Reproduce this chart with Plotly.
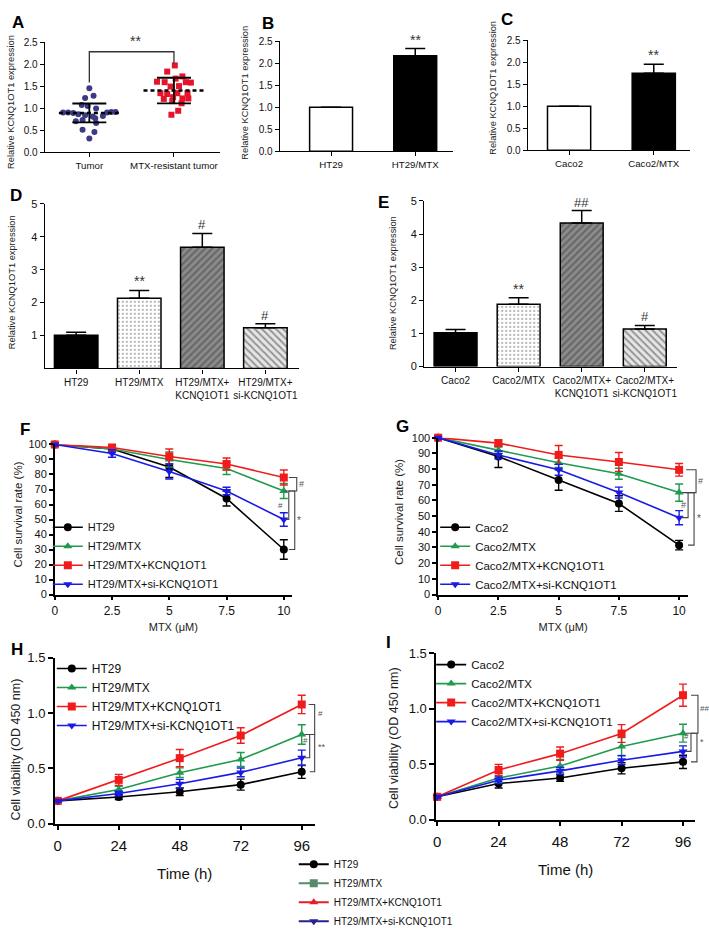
import plotly.graph_objects as go

W, H = 709, 936
FONT = "Liberation Sans, Arial, Helvetica, sans-serif"

# ------------------------------------------------------------------ data
a_categories = ["Tumor", "MTX-resistant tumor"]
tumor_vals = [1.45, 1.23, 1.28, 1.07, 1.05, 0.99, 0.90, 0.90, 0.89, 0.86, 0.84, 0.81,
              0.82, 0.90, 0.91, 0.91, 0.77, 0.70, 0.73, 0.66, 0.51, 0.46, 0.31]
tumor_jitter = [0.0, -0.05, 0.05, -0.09, -0.02, 0.08, -0.31, -0.25, -0.19, -0.13, -0.05, 0.04,
                0.16, 0.21, 0.26, 0.31, 0.07, -0.16, -0.08, 0.08, -0.08, 0.06, 0.0]
resist_vals = [1.97, 1.83, 1.72, 1.67, 1.60, 1.59, 1.59, 1.58, 1.49, 1.50, 1.34,
               1.32, 1.34, 1.34, 1.21, 1.25, 1.22, 1.22, 1.16, 1.11, 0.94, 0.85]
resist_jitter = [0.01, -0.08, 0.10, 0.02, -0.20, -0.11, 0.14, 0.20, -0.04, 0.06, -0.16,
                 -0.08, 0.04, 0.16, -0.12, -0.01, 0.10, 0.17, -0.02, 0.09, 0.05, -0.03]
a_means = [0.89, 1.40]
a_sds = [0.215, 0.29]

b_categories = ["HT29", "HT29/MTX"]
b_values = [1.0, 2.17]
b_errors = [0.0, 0.16]
b_marks = ["", "**"]

c_categories = ["Caco2", "Caco2/MTX"]
c_values = [1.0, 1.75]
c_errors = [0.0, 0.20]
c_marks = ["", "**"]

d_categories = ["HT29", "HT29/MTX", "HT29/MTX+<br>KCNQ1OT1", "HT29/MTX+<br>si-KCNQ1OT1"]
d_values = [1.01, 2.13, 3.68, 1.24]
d_errors = [0.09, 0.24, 0.42, 0.12]
d_marks = ["", "**", "#", "#"]

e_categories = ["Caco2", "Caco2/MTX", "Caco2/MTX+<br>KCNQ1OT1", "Caco2/MTX+<br>si-KCNQ1OT1"]
e_values = [1.02, 1.88, 4.33, 1.13]
e_errors = [0.10, 0.20, 0.38, 0.11]
e_marks = ["", "**", "##", "#"]

mtx_doses = [0, 2.5, 5, 7.5, 10]
dose_ticktext = ["0", "2.5", "5", "7.5", "10"]
hours = [0, 24, 48, 72, 96]

ht29_names = ["HT29", "HT29/MTX", "HT29/MTX+KCNQ1OT1", "HT29/MTX+si-KCNQ1OT1"]
caco2_names = ["Caco2", "Caco2/MTX", "Caco2/MTX+KCNQ1OT1", "Caco2/MTX+si-KCNQ1OT1"]

# F: survival HT29 lines
f_ht29 = [100, 97, 85, 64, 30]
f_ht29_err = [1, 2, 7, 5, 6.5]
f_mtx = [100, 97, 90, 84, 69]
f_mtx_err = [1, 2, 5, 4, 5]
f_kcnq = [100, 98, 92, 87, 78]
f_kcnq_err = [1, 1.5, 5, 4, 5]
f_si = [100, 94, 82, 69, 50]
f_si_err = [1, 2.5, 5, 2.5, 4.5]

# G: survival Caco2 lines
g_caco2 = [100, 88, 73, 58, 31.5]
g_caco2_err = [1, 7, 6.5, 5, 3]
g_mtx = [100, 92, 84, 77, 65]
g_mtx_err = [1, 2, 3, 3.5, 5.5]
g_kcnq = [100, 96.5, 89, 84.5, 79.5]
g_kcnq_err = [1, 2, 6, 6, 4]
g_si = [100, 89, 79.5, 65, 49]
g_si_err = [1, 2.5, 3.5, 3.5, 4.5]

# H: viability HT29
h_ht29 = [0.205, 0.24, 0.287, 0.352, 0.469]
h_ht29_err = [0.01, 0.022, 0.034, 0.05, 0.06]
h_mtx = [0.205, 0.308, 0.46, 0.58, 0.806]
h_mtx_err = [0.01, 0.03, 0.044, 0.063, 0.088]
h_kcnq = [0.205, 0.395, 0.592, 0.797, 1.078]
h_kcnq_err = [0.01, 0.05, 0.078, 0.07, 0.083]
h_si = [0.205, 0.272, 0.36, 0.463, 0.595]
h_si_err = [0.01, 0.02, 0.04, 0.04, 0.07]

# I: viability Caco2
i_caco2 = [0.205, 0.325, 0.374, 0.462, 0.52]
i_caco2_err = [0.01, 0.04, 0.03, 0.05, 0.06]
i_mtx = [0.205, 0.374, 0.482, 0.658, 0.778]
i_mtx_err = [0.01, 0.04, 0.06, 0.08, 0.08]
i_kcnq = [0.205, 0.447, 0.594, 0.775, 1.12]
i_kcnq_err = [0.01, 0.05, 0.06, 0.08, 0.10]
i_si = [0.205, 0.354, 0.439, 0.535, 0.614]
i_si_err = [0.01, 0.03, 0.03, 0.04, 0.05]

# significance brackets: (upper series, lower series, label)
f_sig = [(2, 1, "#"), (1, 3, "#"), (1, 0, "*")]
g_sig = [(2, 1, "#"), (1, 3, "#"), (1, 0, "*")]
h_sig = [(2, 1, "#"), (1, 3, "#"), (1, 0, "**")]
i_sig = [(2, 1, "##"), (1, 3, "#"), (1, 0, "*")]

# ------------------------------------------------------------------ styles
LINE_COLORS = ["#000000", "#1f9a4e", "#f01c1c", "#1a1ae6"]
SYMBOLS = ["circle", "triangle-up", "square", "triangle-down"]
BOTTOM_COLORS = ["#000000", "#5a8a6c", "#e3202a", "#24248a"]
BOTTOM_SYMBOLS = ["circle", "square", "triangle-up", "triangle-down"]

# panel boxes in pixels: left, right, top, bottom ; ranges
PANELS = {
    "A": ((42, 218, 36, 149), [-0.526, 1.545], [0, 2.5]),
    "B": ((278, 452, 35, 148), [-0.609, 1.45], [0, 2.5]),
    "C": ((527, 690, 34, 147), [-0.488, 1.429], [0, 2.5]),
    "D": ((42, 297, 202, 371), [-0.497, 3.529], [0, 5]),
    "E": ((423, 677, 199, 369), [-0.497, 3.513], [0, 5]),
    "F": ((52, 290, 449, 603), [0, 10.348], [0, 100]),
    "G": ((437, 688, 442, 603), [0, 10.372], [0, 100]),
    "H": ((52, 313, 668, 838), [-1.18, 101.1], [0, 1.5]),
    "I": ((435, 695, 663, 834), [-0.39, 100.7], [0, 1.5]),
}
ORDER = ["A", "B", "C", "D", "E", "F", "G", "H", "I"]
AX = {k: ("" if i == 0 else str(i + 1)) for i, k in enumerate(ORDER)}


def to_px(panel, xv, yv):
    (l, r, t, b), xr, yr = PANELS[panel]
    px = l + (xv - xr[0]) / (xr[1] - xr[0]) * (r - l)
    py = b - (yv - yr[0]) / (yr[1] - yr[0]) * (b - t)
    return px, py


fig = go.Figure()

# ---------------------------------------------------------------- panel A
xa, ya = "x", "y"
fig.add_trace(go.Scatter(
    x=[0 + j for j in tumor_jitter], y=tumor_vals, mode="markers",
    marker=dict(symbol="circle", size=6, color="#3c3a84"),
    xaxis=xa, yaxis=ya, showlegend=False, cliponaxis=False))
fig.add_trace(go.Scatter(
    x=[1 + j for j in resist_jitter], y=resist_vals, mode="markers",
    marker=dict(symbol="square", size=6, color="#e5132b"),
    xaxis=xa, yaxis=ya, showlegend=False, cliponaxis=False))
fig.add_trace(go.Scatter(
    x=[0, 1], y=a_means, mode="markers", marker=dict(size=1, color="rgba(0,0,0,0)"),
    error_y=dict(type="data", array=a_sds, width=17, thickness=1.8, color="black"),
    xaxis=xa, yaxis=ya, showlegend=False))
for ci, m in enumerate(a_means):
    fig.add_trace(go.Scatter(
        x=[ci - 0.36, ci + 0.36], y=[m, m], mode="lines",
        line=dict(color="black", width=2.6, dash="4px,3px"),
        xaxis=xa, yaxis=ya, showlegend=False))
top_a = max(resist_vals) + 0.31
fig.add_shape(type="path", xref="x", yref="y",
              path=f"M 0,{max(tumor_vals) + 0.13} L 0,{top_a} L 1,{top_a} L 1,{max(resist_vals) + 0.05}",
              line=dict(color="#333", width=1.3))
fig.add_annotation(x=0.55, y=top_a + 0.02, xref="x", yref="y", text="**", showarrow=False,
                   yanchor="bottom", font=dict(family=FONT, size=14, color="#333"))


# ---------------------------------------------------------------- bars
def bar_panel(panel, cats, vals, errs, marks, pattern, colors, width):
    sx = AX[panel]
    fig.add_trace(go.Bar(
        x=cats, y=vals, width=width,
        marker=dict(color=colors, line=dict(color="black", width=1.5), pattern=pattern),
        error_y=dict(type="data", symmetric=False, array=errs, arrayminus=[0] * len(errs),
                     width=10, thickness=1.5, color="black"),
        xaxis="x" + sx, yaxis="y" + sx, showlegend=False))
    for c, v, e, mk in zip(cats, vals, errs, marks):
        if mk:
            fig.add_annotation(x=c, y=v + e, xref="x" + sx, yref="y" + sx, text=mk,
                               showarrow=False, yanchor="bottom", yshift=-1,
                               font=dict(family=FONT, size=14 if "*" in mk else 13, color="#333"))


bar_panel("B", b_categories, b_values, b_errors, b_marks, None, ["white", "black"], 0.51)
bar_panel("C", c_categories, c_values, c_errors, c_marks, None, ["white", "black"], 0.51)
pat4 = dict(shape=["", ".", "/", "\\"], fgcolor="black", size=[6, 4, 5, 5],
            solidity=[0.2, 0.2, 0.45, 0.4], fillmode="overlay")
bar_fill = ["black", "white", "#8c8c8c", "#e6e6e6"]
bar_panel("D", d_categories, d_values, d_errors, d_marks, pat4, bar_fill, 0.69)
bar_panel("E", e_categories, e_values, e_errors, e_marks, pat4, bar_fill, 0.68)


# ---------------------------------------------------------------- line panels
def line_panel(panel, xs, series, errs, names, legend, msize):
    sx = AX[panel]
    for k in range(4):
        fig.add_trace(go.Scatter(
            x=xs, y=series[k], name=names[k], mode="lines+markers",
            line=dict(color=LINE_COLORS[k], width=1.6),
            marker=dict(symbol=SYMBOLS[k], size=msize, color=LINE_COLORS[k]),
            error_y=dict(type="data", array=errs[k], width=4, thickness=1.4, color=LINE_COLORS[k]),
            xaxis="x" + sx, yaxis="y" + sx, legend=legend, cliponaxis=False))


line_panel("F", mtx_doses, [f_ht29, f_mtx, f_kcnq, f_si],
           [f_ht29_err, f_mtx_err, f_kcnq_err, f_si_err], ht29_names, "legend", 8)
line_panel("G", mtx_doses, [g_caco2, g_mtx, g_kcnq, g_si],
           [g_caco2_err, g_mtx_err, g_kcnq_err, g_si_err], caco2_names, "legend2", 8)
line_panel("H", hours, [h_ht29, h_mtx, h_kcnq, h_si],
           [h_ht29_err, h_mtx_err, h_kcnq_err, h_si_err], ht29_names, "legend3", 8)
line_panel("I", hours, [i_caco2, i_mtx, i_kcnq, i_si],
           [i_caco2_err, i_mtx_err, i_kcnq_err, i_si_err], caco2_names, "legend4", 8)

# bottom shared legend
for k in range(4):
    fig.add_trace(go.Scatter(
        x=[None], y=[None], name=ht29_names[k], mode="lines+markers",
        line=dict(color=BOTTOM_COLORS[k], width=2),
        marker=dict(symbol=BOTTOM_SYMBOLS[k], size=8, color=BOTTOM_COLORS[k]),
        xaxis="x8", yaxis="y8", legend="legend5", showlegend=True))


# significance brackets (paper coords computed from data)
def brackets(panel, xs, series, sig, spec):
    for (hi, lo, label), (xv, xt, side, loff, fs) in zip(sig, spec):
        px, pt = to_px(panel, xs[-1], series[hi][-1])
        _, pb = to_px(panel, xs[-1], series[lo][-1])
        P = lambda x, y: f"{x / W:.5f},{1 - y / H:.5f}"
        fig.add_shape(type="path", xref="paper", yref="paper",
                      path=f"M {P(px + xt, pt)} L {P(px + xv, pt)} L {P(px + xv, pb)} L {P(px + xt, pb)}",
                      line=dict(color="#444", width=1.1))
        fig.add_annotation(x=(px + loff) / W, y=1 - (pt + pb) / 2 / H, xref="paper", yref="paper",
                           text=label, showarrow=False, xanchor="left" if side == "r" else "right",
                           borderpad=0, font=dict(family=FONT, size=fs, color="#555"))


series_f = [f_ht29, f_mtx, f_kcnq, f_si]
series_g = [g_caco2, g_mtx, g_kcnq, g_si]
series_h = [h_ht29, h_mtx, h_kcnq, h_si]
series_i = [i_caco2, i_mtx, i_kcnq, i_si]
brackets("F", mtx_doses, series_f, f_sig,
         [(13, 5, "r", 14, 9), (5, 1, "l", 0, 8), (11, 5, "r", 12, 10)])
brackets("G", mtx_doses, series_g, g_sig,
         [(17, 7, "r", 18, 9), (9, 3, "l", 8, 9), (15, 9, "r", 17, 10)])
brackets("H", hours, series_h, h_sig,
         [(13, 7, "r", 15, 8), (8, 3, "l", 7, 8), (13, 8, "r", 15, 9)])
brackets("I", hours, series_i, i_sig,
         [(15, 8, "r", 16, 8), (8, 3, "l", 7, 8), (14, 8, "r", 16, 9)])

# ---------------------------------------------------------------- axes
tickA = dict(family=FONT, size=10, color="#111")
axis_specs = {
    "A": dict(x=dict(tickvals=[0, 1], ticktext=a_categories, tickfont=dict(family=FONT, size=9.7, color="#111")),
              y=dict(tickvals=[0, 0.5, 1, 1.5, 2, 2.5], tickformat=".1f", tickfont=tickA)),
    "B": dict(x=dict(tickfont=dict(family=FONT, size=9.7, color="#111"), type="category"),
              y=dict(tickvals=[0, 0.5, 1, 1.5, 2, 2.5], tickformat=".1f", tickfont=tickA)),
    "C": dict(x=dict(tickfont=dict(family=FONT, size=9.7, color="#111"), type="category"),
              y=dict(tickvals=[0, 0.5, 1, 1.5, 2, 2.5], tickformat=".1f", tickfont=tickA)),
    "D": dict(x=dict(tickfont=dict(family=FONT, size=10, color="#111"), type="category", tickangle=0),
              y=dict(tickvals=[1, 2, 3, 4, 5], tickfont=dict(family=FONT, size=11, color="#111"))),
    "E": dict(x=dict(tickfont=dict(family=FONT, size=10, color="#111"), type="category", tickangle=0),
              y=dict(tickvals=[0, 1, 2, 3, 4, 5], tickfont=dict(family=FONT, size=11, color="#111"))),
    "F": dict(x=dict(tickvals=mtx_doses, ticktext=dose_ticktext, tickfont=dict(family=FONT, size=12, color="#111"),
                     title=dict(text="MTX (μM)", font=dict(family=FONT, size=11, color="#222"), standoff=7)),
              y=dict(dtick=10, tick0=0, tickfont=dict(family=FONT, size=11, color="#111"))),
    "G": dict(x=dict(tickvals=mtx_doses, ticktext=dose_ticktext, tickfont=dict(family=FONT, size=12, color="#111"),
                     title=dict(text="MTX (μM)", font=dict(family=FONT, size=11, color="#222"), standoff=7)),
              y=dict(dtick=10, tick0=0, tickfont=dict(family=FONT, size=11, color="#111"))),
    "H": dict(x=dict(tickvals=hours, tickfont=dict(family=FONT, size=15, color="#111"), ticklabelstandoff=3,
                     title=dict(text="Time (h)", font=dict(family=FONT, size=15, color="#111"), standoff=15)),
              y=dict(tickvals=[0, 0.5, 1.0, 1.5], tickformat=".1f", tickfont=dict(family=FONT, size=13, color="#111"))),
    "I": dict(x=dict(tickvals=hours, tickfont=dict(family=FONT, size=15, color="#111"), ticklabelstandoff=3,
                     title=dict(text="Time (h)", font=dict(family=FONT, size=15, color="#111"), standoff=15)),
              y=dict(tickvals=[0, 0.5, 1.0, 1.5], tickformat=".1f", tickfont=dict(family=FONT, size=13, color="#111"))),
}

layout_axes = {}
for k in ORDER:
    (l, r, t, b), xr, yr = PANELS[k]
    sx = AX[k]
    lw = 1.3 if k in "ABCDE" else 1.5
    base = dict(showgrid=False, zeroline=False, showline=True, linecolor="black", linewidth=lw,
                ticks="outside", tickcolor="black", ticklen=4, tickwidth=lw, fixedrange=True)
    xs = dict(base, domain=[l / W, r / W], range=xr, anchor="y" + sx, **axis_specs[k]["x"])
    ys = dict(base, domain=[1 - b / H, 1 - t / H], range=yr, anchor="x" + sx, **axis_specs[k]["y"])
    if k in "HI":
        xs["ticklen"] = 5
        ys["ticklen"] = 5
    layout_axes["xaxis" + sx] = xs
    layout_axes["yaxis" + sx] = ys

# y-axis titles (rotated text placed beside each axis)
Y_TITLES = {
    "A": ("Relative KCNQ1OT1 expression", 7.5, 97, 9.3),
    "B": ("Relative KCNQ1OT1 expression", 243, 88, 9.3),
    "C": ("Relative KCNQ1OT1 expression", 492, 83, 9.3),
    "D": ("Relative KCNQ1OT1 expression", 8.5, 282, 9.3),
    "E": ("Relative KCNQ1OT1 expression", 391, 283, 9.3),
    "F": ("Cell survival rate (%)", 15, 521, 11.5),
    "G": ("Cell survival rate (%)", 397, 518, 11.5),
    "H": ("Cell viability (OD 450 nm)", 14, 762, 12.5),
    "I": ("Cell viability (OD 450 nm)", 392, 750, 12.5),
}
for k, (txt, px, py, fs) in Y_TITLES.items():
    fig.add_annotation(x=px / W, y=1 - py / H, xref="paper", yref="paper", text=txt, textangle=-90,
                       showarrow=False, xanchor="center", yanchor="middle",
                       font=dict(family=FONT, size=fs, color="#222"))

# panel letters
for k, (px, py) in {"A": (15, 16), "B": (266, 17), "C": (506, 13), "D": (13, 193), "E": (382, 201),
                    "F": (22, 434), "G": (401, 431), "H": (14, 659), "I": (387, 652)}.items():
    fig.add_annotation(x=px / W, y=1 - py / H, xref="paper", yref="paper", text=f"<b>{k}</b>",
                       showarrow=False, xanchor="center", yanchor="middle",
                       font=dict(family=FONT, size=17, color="black"))

leg_base = dict(bgcolor="rgba(0,0,0,0)", borderwidth=0, xanchor="left", yanchor="top",
                tracegroupgap=0, itemclick=False, itemdoubleclick=False)
fig.update_layout(
    width=W, height=H, margin=dict(l=0, r=0, t=0, b=0),
    paper_bgcolor="white", plot_bgcolor="white",
    font=dict(family=FONT, color="black"),
    legend=dict(x=45 / W, y=1 - 519 / H, font=dict(family=FONT, size=11, color="#111"), **leg_base),
    legend2=dict(x=434 / W, y=1 - 519 / H, font=dict(family=FONT, size=11.5, color="#111"), **leg_base),
    legend3=dict(x=49 / W, y=1 - 664 / H, font=dict(family=FONT, size=12, color="#111"), **leg_base),
    legend4=dict(x=430 / W, y=1 - 660 / H, font=dict(family=FONT, size=11.5, color="#111"), **leg_base),
    legend5=dict(x=292 / W, y=1 - 865 / H, font=dict(family=FONT, size=10, color="#111"), **leg_base),
    **layout_axes,
)

fig.write_html("out.html", config={"displayModeBar": False},
               post_script="document.body.style.margin='0px';document.documentElement.style.margin='0px';")
